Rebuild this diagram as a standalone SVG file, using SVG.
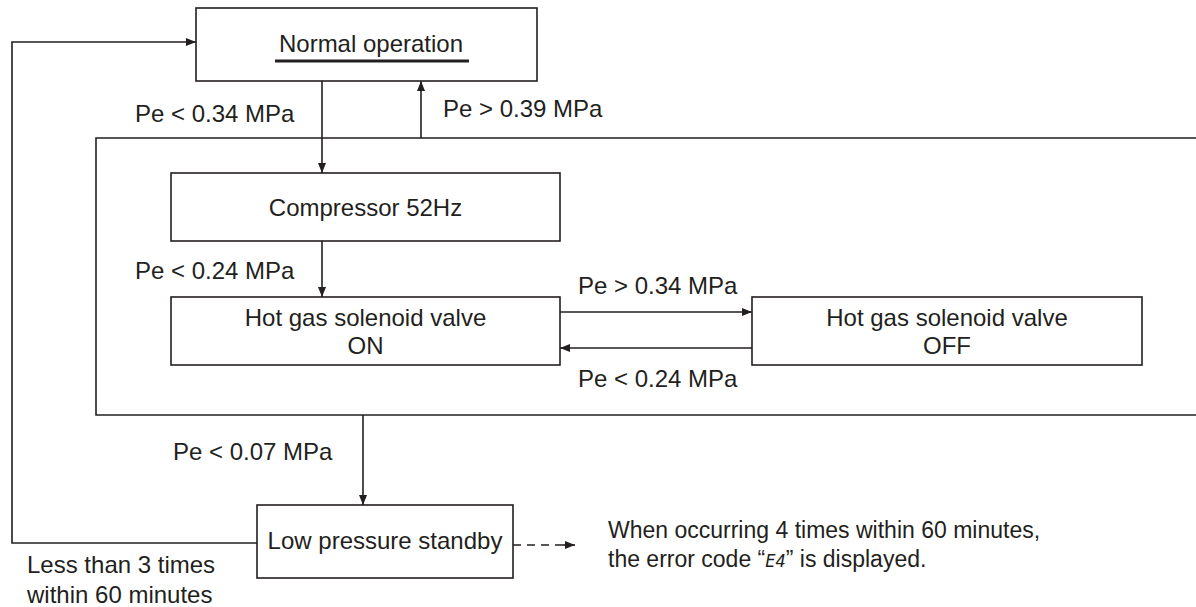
<svg xmlns="http://www.w3.org/2000/svg" width="1196" height="607" viewBox="0 0 1196 607">
<style>
  .box { fill: #ffffff; stroke: #231f20; stroke-width: 1.6; }
  .ln { fill: none; stroke: #231f20; stroke-width: 1.6; }
  .dash { fill: none; stroke: #231f20; stroke-width: 1.6; stroke-dasharray: 8 6; }
  .t { font-family: "Liberation Sans", Arial, sans-serif; font-size: 24px; fill: #231f20; }
  .n { font-size: 23px; }
  .c { text-anchor: middle; }
  .seg { font-family: "DejaVu Sans Mono", monospace; font-size: 17px; font-style: italic; fill: #231f20; }
</style>
<defs>
  <marker id="ah" viewBox="0 0 10 8" refX="10" refY="4" markerWidth="10" markerHeight="8" markerUnits="userSpaceOnUse" orient="auto">
    <path d="M0,0 L10,4 L0,8 Z" fill="#231f20"/>
  </marker>
</defs>
<rect width="1196" height="607" fill="#ffffff"/>

<g id="connectors">
  <polyline class="ln" points="1196,138 96,138 96,415 1196,415"/>
  <line class="ln" x1="322" y1="81" x2="322" y2="173" marker-end="url(#ah)"/>
  <line class="ln" x1="421" y1="138" x2="421" y2="81" marker-end="url(#ah)"/>
  <line class="ln" x1="322" y1="241" x2="322" y2="297" marker-end="url(#ah)"/>
  <line class="ln" x1="560" y1="312" x2="752" y2="312" marker-end="url(#ah)"/>
  <line class="ln" x1="752" y1="348" x2="560" y2="348" marker-end="url(#ah)"/>
  <line class="ln" x1="363" y1="415" x2="363" y2="505" marker-end="url(#ah)"/>
  <polyline class="ln" points="257,543 12,543 12,42 196,42" marker-end="url(#ah)"/>
  <line class="dash" x1="513" y1="545" x2="565" y2="545"/>
  <line class="ln" x1="563" y1="545" x2="575" y2="545" marker-end="url(#ah)"/>
  <text class="t" x="135" y="122">Pe &lt; 0.34 MPa</text>
  <text class="t" x="443" y="117">Pe &gt; 0.39 MPa</text>
  <text class="t" x="135" y="279">Pe &lt; 0.24 MPa</text>
  <text class="t" x="578" y="294">Pe &gt; 0.34 MPa</text>
  <text class="t" x="578" y="387">Pe &lt; 0.24 MPa</text>
  <text class="t" x="173" y="460">Pe &lt; 0.07 MPa</text>
  <text class="t" x="27" y="573">Less than 3 times</text>
  <text class="t" x="27" y="603">within 60 minutes</text>
  <text class="t n" x="608" y="538">When occurring 4 times within 60 minutes,</text>
  <text class="t n" x="608" y="567">the error code “<tspan class="seg">E4</tspan>” is displayed.</text>
</g>

<g id="normal-operation">
  <rect class="box" x="196" y="8" width="341" height="73"/>
  <text class="t c" x="371" y="52">Normal operation</text>
  <line x1="275" y1="61" x2="469" y2="61" stroke="#231f20" stroke-width="3"/>
</g>

<g id="compressor">
  <rect class="box" x="171" y="173" width="389" height="68"/>
  <text class="t c" x="365.5" y="216">Compressor 52Hz</text>
</g>

<g id="valve-on">
  <rect class="box" x="171" y="297" width="389" height="68"/>
  <text class="t c" x="365.5" y="326">Hot gas solenoid valve</text>
  <text class="t c" x="365.5" y="354">ON</text>
</g>

<g id="valve-off">
  <rect class="box" x="752" y="297" width="390" height="68"/>
  <text class="t c" x="947" y="326">Hot gas solenoid valve</text>
  <text class="t c" x="947" y="354">OFF</text>
</g>

<g id="low-pressure">
  <rect class="box" x="257" y="505" width="256" height="73"/>
  <text class="t c" x="385" y="549">Low pressure standby</text>
</g>
</svg>
